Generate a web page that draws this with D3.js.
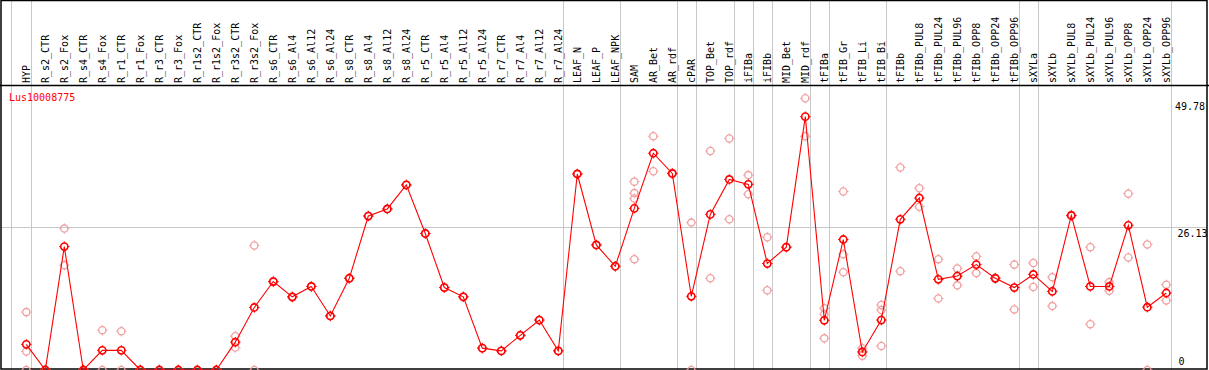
<!DOCTYPE html>
<html><head><meta charset="utf-8">
<script src="https://cdn.jsdelivr.net/npm/d3@7"></script>
<style>body{margin:0;background:#fff}svg{display:block}</style>
</head><body>
<script>
const categories = ["HYP","R_s2_CTR","R_s2_Fox","R_s4_CTR","R_s4_Fox","R_r1_CTR","R_r1_Fox","R_r3_CTR","R_r3_Fox","R_r1s2_CTR","R_r1s2_Fox","R_r3s2_CTR","R_r3s2_Fox","R_s6_CTR","R_s6_Al4","R_s6_Al12","R_s6_Al24","R_s8_CTR","R_s8_Al4","R_s8_Al12","R_s8_Al24","R_r5_CTR","R_r5_Al4","R_r5_Al12","R_r5_Al24","R_r7_CTR","R_r7_Al4","R_r7_Al12","R_r7_Al24","LEAF_N","LEAF_P","LEAF_NPK","SAM","AR_Bet","AR_rdf","cPAR","TOP_Bet","TOP_rdf","iFIBa","iFIBb","MID_Bet","MID_rdf","tFIBa","tFIB_Gr","tFIB_Li","tFIB_Bi","tFIBb","tFIBb_PUL8","tFIBb_PUL24","tFIBb_PUL96","tFIBb_OPP8","tFIBb_OPP24","tFIBb_OPP96","sXYLa","sXYLb","sXYLb_PUL8","sXYLb_PUL24","sXYLb_PUL96","sXYLb_OPP8","sXYLb_OPP24","sXYLb_OPP96"];
const means = [4.7,0,22.6,0,3.6,3.6,0,0,0,0,0,5.1,11.45,16.2,13.4,15.3,9.9,16.8,28.2,29.5,33.9,25.0,15.1,13.4,4.0,3.5,6.35,9.15,3.5,35.9,22.9,19.0,29.6,39.7,36.0,13.5,28.5,34.9,34.0,19.5,22.5,46.4,9.1,23.9,3.3,9.15,27.6,31.5,16.6,17.2,19.3,16.8,15.1,17.5,14.4,28.3,15.3,15.3,26.5,11.5,14.1];
const replicates = [[10.6,3.4,0],[0,0],[25.9,19.2],[0,0],[7.3,0],[7.1,0],[0,0],[0,0],[0,0],[0,0],[0,0],[6.2,4.1],[22.8,0],[16.3,16.1],[13.4,13.3],[15.3,15.3],[9.9,9.9],[16.8,16.8],[28.2,28.2],[29.5,29.5],[33.9,33.9],[25.0,25.0],[15.1,15.1],[13.4,13.4],[4.0,4.0],[3.5,3.5],[6.35,6.35],[9.15,9.15],[3.5,3.5],[35.9,35.9],[22.9,22.9],[19.0,19.0],[34.5,32.4,31.4,20.3],[42.8,36.4],[36.1,35.9],[27.0,0],[40.1,16.8],[42.4,27.6],[35.7,32.2],[24.3,14.6],[22.5,22.5],[49.78,42.8],[11.3,10.2,5.8],[32.7,21.2,17.9],[4.0,2.6],[11.9,11.0,4.4],[37.1,18.1],[33.3,29.9],[20.3,13.1],[18.6,15.5],[20.8,17.75],[16.9,16.7],[19.3,11.1],[19.6,15.2],[17.0,11.7],[28.4,28.2],[22.5,8.4],[16.1,14.5],[32.3,20.6],[23.0,0],[15.6,12.75]];
const groupEnds = ["HYP","R_r7_Al24","LEAF_NPK","AR_rdf","cPAR","TOP_rdf","iFIBa","iFIBb","MID_rdf","tFIBa","tFIB_Bi","tFIBb_OPP96","sXYLa","sXYLb_OPP96"];
const yTicks = ["49.78", "26.13", "0"];
const title = "Lus10008775";

const W = 1209, H = 370;
const svg = d3.select("body").append("svg").attr("width", W).attr("height", H);
const x = d3.scalePoint().domain(categories).range([26.3, 1166.3]);
const y = d3.scaleLinear().domain([0, 49.78]).range([370, 98.2]);
const font = "'DejaVu Sans Mono', monospace";

// vertical grid lines
const gx = [x(categories[0]) - 15.5].concat(groupEnds.map(c => x(c) + 4.5));
svg.selectAll("line.vg").data(gx).join("line")
  .attr("x1", d => Math.round(d) + 0.5).attr("x2", d => Math.round(d) + 0.5)
  .attr("y1", 0).attr("y2", H).attr("stroke", "#c8c8c8").attr("stroke-width", 1);
// horizontal grid at 26.13
svg.append("line").attr("x1", 1).attr("x2", 1207)
  .attr("y1", Math.round(y(26.13)) + 0.5).attr("y2", Math.round(y(26.13)) + 0.5)
  .attr("stroke", "#c8c8c8");

// frame
svg.append("rect").attr("x", 1).attr("y", 0.5).attr("width", 1206).attr("height", 368.5)
  .attr("fill", "none").attr("stroke", "#000").attr("stroke-width", 1.5);
svg.append("line").attr("x1", 0).attr("x2", W).attr("y1", 85.5).attr("y2", 85.5)
  .attr("stroke", "#000").attr("stroke-width", 1.5);

// category labels
svg.selectAll("text.cat").data(categories).join("text")
  .attr("transform", d => `translate(${x(d) + 3.5},83) rotate(-90)`)
  .attr("font-family", font).attr("font-size", 10).attr("fill", "#000")
  .text(d => d);

// title
svg.append("text").attr("x", 9).attr("y", 101).attr("font-family", font)
  .attr("font-size", 10).attr("fill", "#ff0000").text(title);

// y labels (placed just below their value line, clamped inside the frame)
const yLabPos = {"49.78": [1175, 110], "26.13": [1177.5, 236.5], "0": [1178.5, 365]};
svg.selectAll("text.yl").data(yTicks).join("text")
  .attr("x", d => yLabPos[d][0]).attr("y", d => yLabPos[d][1])
  .attr("font-family", font).attr("font-size", 10).attr("fill", "#000")
  .text(d => d);

function marker(g, cx, cy, color, sw) {
  const r = 3.6;
  g.append("circle").attr("cx", cx).attr("cy", cy).attr("r", r)
    .attr("fill", "none").attr("stroke", color).attr("stroke-width", sw);
  [[0,-1],[0,1],[-1,0],[1,0]].forEach(([dx,dy]) => {
    g.append("line").attr("x1", cx + dx*r).attr("y1", cy + dy*r)
      .attr("x2", cx + dx*(r+1.6)).attr("y2", cy + dy*(r+1.6))
      .attr("stroke", color).attr("stroke-width", 1);
  });
}

// replicates
const rg = svg.append("g");
replicates.forEach((arr, i) => arr.forEach(v => marker(rg, x(categories[i]), y(v), "#f0a0a0", 1.3)));

// mean line
svg.append("path").datum(means)
  .attr("d", d3.line().x((d, i) => x(categories[i])).y(d => y(d)))
  .attr("fill", "none").attr("stroke", "#ff0000").attr("stroke-width", 1.1);

const mg = svg.append("g");
means.forEach((v, i) => marker(mg, x(categories[i]), y(v), "#ff0000", 1.6));
</script>
</body></html>
